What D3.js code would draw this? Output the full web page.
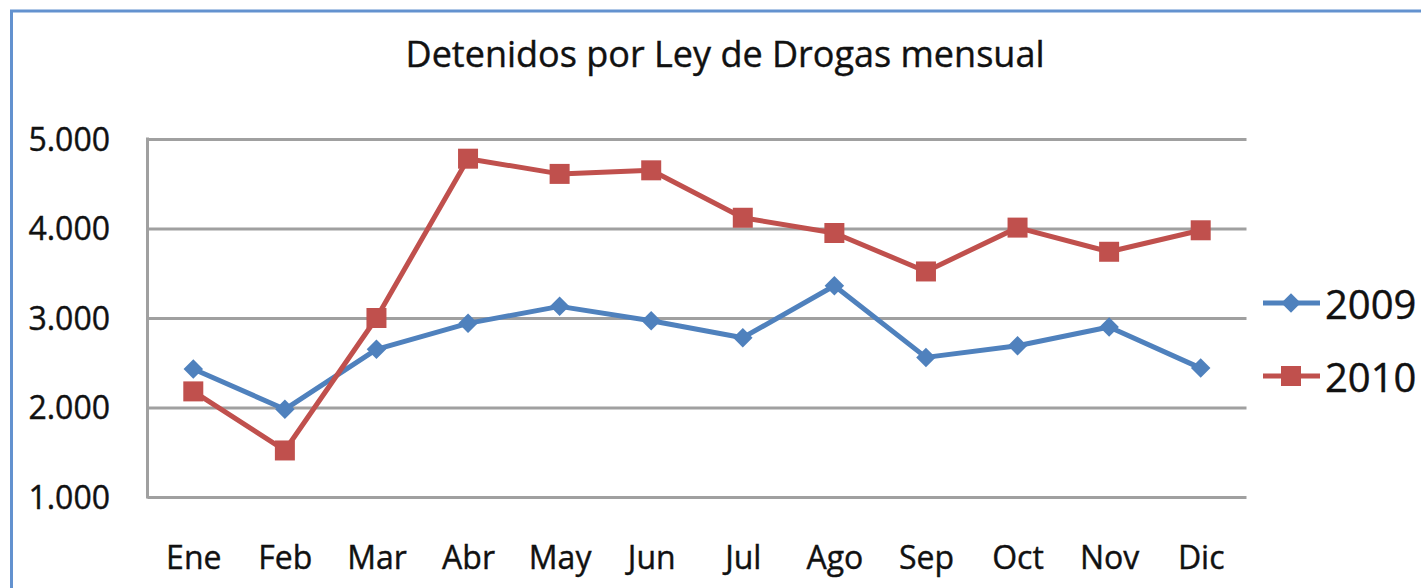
<!DOCTYPE html>
<html>
<head>
<meta charset="utf-8">
<script src="https://cdn.jsdelivr.net/npm/d3@7"></script>
<style>
  html, body { margin: 0; padding: 0; background: #fff; }
  svg { display: block; font-family: "Open Sans", sans-serif; }
</style>
</head>
<body>
<svg id="chart" width="1421" height="588"></svg>
<script>
const months = ["Ene","Feb","Mar","Abr","May","Jun","Jul","Ago","Sep","Oct","Nov","Dic"];
const values2009 = [2430, 1980, 2650, 2940, 3130, 2970, 2780, 3360, 2560, 2690, 2900, 2440];
const values2010 = [2180, 1520, 3000, 4780, 4610, 4650, 4120, 3950, 3520, 4010, 3740, 3980];
const yTicks = [1000, 2000, 3000, 4000, 5000];
const seriesNames = ["2009", "2010"];
const seriesColors = ["#4F81BD", "#C0504D"];
const titleText = "Detenidos por Ley de Drogas mensual";

const svg = d3.select("#chart");
const textColor = "#111";

// outer chart border (clipped at right/bottom)
svg.append("rect")
  .attr("x", 11.5).attr("y", 11).attr("width", 1440).attr("height", 620)
  .attr("fill", "none").attr("stroke", "#6392cf").attr("stroke-width", 3);

const plot = { left: 147.5, right: 1246.5, top: 139, bottom: 497 };

const x = d3.scalePoint().domain(months).range([plot.left, plot.right]).padding(0.5);
const y = d3.scaleLinear().domain([1000, 5000]).range([plot.bottom, plot.top]);

// title
svg.append("text")
  .attr("x", 725).attr("y", 67)
  .attr("text-anchor", "middle")
  .attr("font-size", 36).attr("fill", textColor)
  .attr("stroke", textColor).attr("stroke-width", 0.4)
  .text(titleText);

// gridlines
const grid = svg.append("g")
  .attr("transform", `translate(${plot.left},0)`)
  .call(d3.axisLeft(y).tickValues(yTicks).tickSize(-(plot.right - plot.left)).tickFormat(""));
grid.select(".domain").remove();
grid.selectAll(".tick line").attr("stroke", "#a0a0a0").attr("stroke-width", 3);

// left axis line
svg.append("line")
  .attr("x1", plot.left).attr("x2", plot.left)
  .attr("y1", plot.top - 1.5).attr("y2", plot.bottom + 1.5)
  .attr("stroke", "#a0a0a0").attr("stroke-width", 3);

// y tick labels
const fmt = v => d3.format(",")(v).replace(/,/g, ".");
svg.append("g").selectAll("text").data(yTicks).join("text")
  .attr("x", 110).attr("y", d => y(d) + 11.5)
  .attr("text-anchor", "end")
  .attr("font-size", 32).attr("fill", textColor)
  .attr("stroke", textColor).attr("stroke-width", 0.4)
  .text(fmt);

// x labels
const xAxis = svg.append("g")
  .attr("transform", `translate(0,${plot.bottom})`)
  .call(d3.axisBottom(x).tickSize(0).tickPadding(0));
xAxis.select(".domain").remove();
xAxis.selectAll("text")
  .attr("y", 0).attr("dy", 0)
  .attr("transform", "translate(0,72)")
  .attr("font-size", 32).attr("fill", textColor)
  .attr("stroke", textColor).attr("stroke-width", 0.4)
  .attr("font-family", "Open Sans, sans-serif");

const line = d3.line().x((d, i) => x(months[i])).y(d => y(d));
const squareSym = d3.symbol().type(d3.symbolSquare).size(400)();
const diamondSym = d3.symbol().type(d3.symbolSquare).size(190)();

function drawSeries(vals, color, isDiamond) {
  const g = svg.append("g");
  g.append("path").datum(vals)
    .attr("d", line).attr("fill", "none")
    .attr("stroke", color).attr("stroke-width", 5)
    .attr("stroke-linejoin", "round");
  g.selectAll("path.m").data(vals).join("path")
    .attr("class", "m")
    .attr("d", isDiamond ? diamondSym : squareSym)
    .attr("fill", color)
    .attr("transform", (d, i) => `translate(${x(months[i])},${y(d)})` + (isDiamond ? " rotate(45)" : ""));
}
drawSeries(values2009, seriesColors[0], true);
drawSeries(values2010, seriesColors[1], false);

// legend
const legendY = [303, 376];
const leg = svg.append("g");
seriesNames.forEach((name, i) => {
  const gy = legendY[i];
  leg.append("line").attr("x1", 1263).attr("x2", 1320).attr("y1", gy).attr("y2", gy)
    .attr("stroke", seriesColors[i]).attr("stroke-width", 5);
  leg.append("path")
    .attr("d", i === 0 ? diamondSym : squareSym)
    .attr("fill", seriesColors[i])
    .attr("transform", `translate(1291,${gy})` + (i === 0 ? " rotate(45)" : ""));
  leg.append("text").attr("x", 1325).attr("y", gy + 16)
    .attr("font-size", 40).attr("fill", textColor)
    .attr("stroke", textColor).attr("stroke-width", 0.4)
    .text(name);
});
</script>
</body>
</html>
